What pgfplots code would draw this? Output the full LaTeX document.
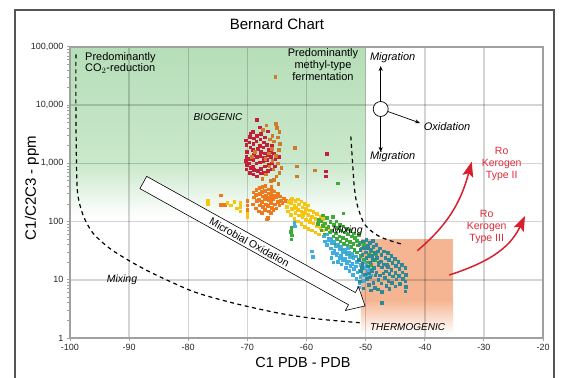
\documentclass[border=0pt]{standalone}
\usepackage{pgfplots}
\pgfplotsset{compat=1.18}
\usepackage{fontspec}
\setmainfont{Liberation Sans}
\usetikzlibrary{calc,arrows.meta}
\definecolor{cred}{HTML}{C41E3A}
\definecolor{cochre}{HTML}{D07A2C}
\definecolor{corange}{HTML}{EE7A1E}
\definecolor{cyellow}{HTML}{F5C510}
\definecolor{cgreen}{HTML}{3DAA3A}
\definecolor{cblue}{HTML}{3EAEE2}
\definecolor{cteal}{HTML}{2A8A98}
\definecolor{axgray}{HTML}{A0A0A0}
\definecolor{arrred}{HTML}{D71F2E}
\definecolor{txtred}{HTML}{DD2A3A}
\definecolor{greenTop}{HTML}{B6DEB8}
\definecolor{greenMid}{HTML}{CAE8CB}
\definecolor{orTop}{HTML}{F5B592}
\definecolor{framegray}{HTML}{555555}
\begin{document}
\begin{tikzpicture}
\begin{axis}[
  set layers,
  scale only axis, width=473pt, height=291pt,
  at={(0pt,0pt)}, anchor=south west,
  ymode=log, xmin=-100, xmax=-20, ymin=1, ymax=100000,
  xtick={-100,-90,-80,-70,-60,-50,-40,-30,-20},
  xticklabels={-100,-90,-80,-70,-60,-50,-40,-30,-20},
  ytick={1,10,100,1000,10000,100000},
  yticklabels={1,10,100,{1,000},{10,000},{100,000}},
  minor tick num=0,
  grid=major, major grid style={black, opacity=0.17, line width=1.5pt},
  axis line style={axgray, line width=1.3pt},
  tick style={axgray, line width=1pt}, tick align=outside, major tick length=3pt,
  xtick pos=left, ytick pos=left,
  ticklabel style={font=\fontsize{9}{10}\selectfont, text=black!85},
]
\begin{pgfonlayer}{axis background}
\shade[top color=greenTop, bottom color=greenMid] (axis cs:-100,100000) rectangle (axis cs:-50,1000);
\shade[top color=greenMid, bottom color=white] (axis cs:-100,1001) rectangle (axis cs:-50,120);
\fill[orTop] (axis cs:-50.8,49.6) rectangle (axis cs:-35.2,4.5);
\shade[top color=orTop, bottom color=white] (axis cs:-50.8,4.52) rectangle (axis cs:-35.2,1.2);
\end{pgfonlayer}

% dashed boundary curves
\addplot[black, line width=1.2pt, dash pattern=on 4pt off 3.5pt, smooth, tension=0.5] coordinates {
(-99.0,75000)(-99.0,8000)(-98.9,1000)(-98.7,300)(-97.8,130)(-96.2,65)(-93.5,36)(-90.4,22.5)(-87,14.5)(-83.6,9.9)(-78.6,6.0)(-72,3.9)(-64.5,2.65)(-58,2.12)(-51.0,1.83)};
\addplot[black, line width=1.2pt, dash pattern=on 4pt off 3.5pt, smooth, tension=0.5] coordinates {
(-52.5,2900)(-52.2,1000)(-51.9,380)(-51.4,190)(-50.1,88)(-47.6,55)(-43.9,41)};

% red
\addplot[only marks, mark=square*, mark size=1.3pt, cred, mark options={draw=none, fill=cred}] coordinates {
(-70.2,800)(-70.1,950)(-70.3,1100)(-70.2,1300)(-70.1,1600)(-70.2,2100)(-70.3,2500)
(-69.6,700)(-69.5,850)(-69.7,1000)(-69.6,1200)(-69.5,1900)(-69.7,2300)(-69.6,2900)(-69.5,3300)
(-69.0,650)(-68.9,780)(-69.1,900)(-69.0,1150)(-68.9,1400)(-69.1,1700)(-69.0,2200)(-68.9,2700)(-69.1,3500)
(-68.4,5700)(-68.4,600)(-68.3,750)(-68.5,1000)(-68.4,1300)(-68.3,1800)(-68.5,2400)(-68.4,3000)
(-67.8,680)(-67.7,820)(-67.9,1050)(-67.8,1350)(-67.7,1600)(-67.9,2000)(-67.8,2600)(-67.7,3200)(-67.9,4200)
(-67.2,700)(-67.1,900)(-67.3,1100)(-67.2,1250)(-67.1,1500)(-67.3,1900)(-67.2,2300)(-67.1,2800)
(-66.6,750)(-66.5,950)(-66.7,1150)(-66.6,1400)(-66.5,1700)(-66.7,2100)(-66.6,3600)
(-66.0,800)(-65.9,1000)(-66.1,1300)(-66.0,1600)(-65.9,2000)
(-65.4,900)(-65.3,1200)(-65.5,1500)
(-64.8,1000)(-64.7,1300)
(-56.6,1480)(-56.8,740)(-56.8,600)};
% ochre
\addplot[only marks, mark=square*, mark size=1.3pt, cochre, mark options={draw=none, fill=cochre}] coordinates {
(-65.3,31000)(-65.2,4800)(-65.0,4100)(-64.6,3500)(-65.8,3000)(-66.2,2600)(-64.9,2800)(-65.5,2400)(-66.8,4500)(-67.4,3800)
(-64.5,2200)(-65.9,1800)(-66.4,1500)(-64.7,1700)(-65.2,1350)(-67.0,1200)(-65.8,1100)(-64.9,1000)(-66.3,900)(-65.6,800)
(-64.6,700)(-66.9,650)(-65.1,600)(-67.5,550)(-66.1,500)(-64.8,450)(-68.8,1600)(-69.3,1300)(-65.5,520)(-64.3,850)
(-62.0,1870)(-61.7,900)(-61.7,600)(-58.6,760)};
% orange
\addplot[only marks, mark=square*, mark size=1.3pt, corange, mark options={draw=none, fill=corange}] coordinates {
(-69.1,200)(-68.9,262)(-69.0,318)
(-68.6,171)(-68.4,228)(-68.6,292)(-68.5,352)
(-68.1,151)(-67.9,192)(-68.1,238)(-67.9,303)(-68.0,378)
(-67.6,141)(-67.4,181)(-67.6,219)(-67.4,272)(-67.6,328)(-67.5,402)
(-67.1,161)(-66.9,198)(-67.1,243)(-66.9,279)(-67.1,342)(-67.0,418)
(-66.6,116)(-66.4,151)(-66.6,188)(-66.4,232)(-66.6,262)(-66.4,308)(-66.5,362)
(-66.1,141)(-65.9,174)(-66.1,212)(-65.9,248)(-66.1,292)(-65.9,338)(-66.0,398)
(-65.6,161)(-65.4,198)(-65.6,242)(-65.4,278)(-65.5,332)
(-65.1,171)(-64.9,218)(-65.1,262)(-64.9,298)
(-64.6,191)(-64.4,228)(-64.5,272)
(-64.1,209)(-63.9,252)(-63.5,230)
(-70.0,160)(-70.0,190)(-70.0,230)(-74.5,285)(-74.5,195)(-73.8,195)(-62.7,230)(-66.7,110)};
% yellow
\addplot[only marks, mark=square*, mark size=1.3pt, cyellow, mark options={draw=none, fill=cyellow}] coordinates {
(-76.7,200)(-76.7,230)(-73.4,210)(-72.8,190)(-72.2,222)(-71.8,170)(-71.2,150)(-71.2,180)(-71.2,210)(-70.0,120)(-70.0,140)
(-63.3,182)(-63.1,221)(-63.2,152)(-62.7,131)(-62.5,168)(-62.7,212)(-62.5,248)(-62.1,112)(-61.9,141)(-62.1,188)(-61.9,231)
(-61.5,101)(-61.3,129)(-61.5,162)(-61.3,198)(-61.5,242)(-60.9,91)(-60.7,119)(-60.9,152)(-60.7,178)(-60.9,223)
(-60.3,81)(-60.1,109)(-60.3,142)(-60.1,168)(-60.3,203)(-59.7,76)(-59.5,99)(-59.7,132)(-59.5,158)(-59.7,192)
(-59.1,71)(-58.9,94)(-59.1,122)(-58.9,148)(-58.5,66)(-58.3,84)(-58.5,112)(-58.3,138)(-57.9,61)(-57.7,79)(-57.9,101)(-57.7,124)
(-57.3,71)(-57.1,89)(-57.3,111)(-56.7,61)(-56.5,79)(-56.0,70)(-60.6,130)(-61.8,175)(-59.4,110)};
% green
\addplot[only marks, mark=square*, mark size=1.3pt, cgreen, mark options={draw=none, fill=cgreen}] coordinates {
(-62.6,50)(-62.5,58)(-62.7,67)(-62.6,78)(-54.7,460)(-58.1,91)(-57.9,108)(-57.5,71)(-57.3,86)(-57.5,101)(-57.3,128)
(-56.9,61)(-56.7,76)(-56.9,94)(-56.6,116)(-56.3,51)(-56.1,66)(-56.3,81)(-56.0,99)(-55.7,46)(-55.5,56)(-55.7,71)(-55.4,89)(-55.6,121)
(-55.1,41)(-54.9,51)(-55.1,63)(-54.8,79)(-55.0,101)(-54.5,36)(-54.3,46)(-54.5,56)(-54.2,71)(-54.4,88)
(-53.9,33)(-53.7,42)(-53.9,53)(-53.6,66)(-53.8,84)(-53.8,140)(-53.3,30)(-53.1,39)(-53.3,49)(-53.0,61)(-53.2,76)
(-52.7,28)(-52.5,37)(-52.7,45)(-52.4,56)(-52.6,69)(-52.1,25)(-51.9,33)(-52.1,42)(-51.8,53)(-52.0,63)
(-51.5,30)(-51.3,39)(-51.5,47)(-51.2,59)(-50.9,26)(-50.7,35)(-50.9,44)(-50.3,22)(-50.1,30)(-50.3,40)
(-49.7,20)(-49.5,27)(-49.7,36)(-49.1,18)(-48.9,24)(-49.1,32)(-48.5,22)(-48.3,28)};
% blue
\addplot[only marks, mark=square*, mark size=1.3pt, cblue, mark options={draw=none, fill=cblue}] coordinates {
(-62.1,95)(-62.0,84)(-59.1,31)(-59.0,25)(-55.5,20)(-57.1,56)(-56.9,46)(-56.5,61)(-56.3,49)(-56.6,40)
(-55.9,51)(-55.7,43)(-55.9,35)(-55.6,29.5)(-55.3,46)(-55.1,38)(-55.3,32)(-55.0,27)
(-54.7,41)(-54.5,34)(-54.8,28.5)(-54.5,24)(-54.7,20.5)(-54.1,37)(-53.9,30.5)(-54.2,26)(-53.9,22)(-54.1,18.5)
(-53.5,33)(-53.3,27.5)(-53.5,23)(-53.2,19.5)(-53.4,16)(-52.9,30)(-52.7,25)(-52.9,21)(-52.6,17.5)(-52.8,14.2)
(-52.3,28)(-52.1,23.5)(-52.3,19)(-52.0,15.5)(-52.2,12.2)(-51.7,25.5)(-51.5,20.5)(-51.7,17)(-51.4,13.5)(-51.6,10.5)
(-51.1,22.5)(-50.9,18)(-51.1,14.5)(-50.9,11.2)(-51.1,9)(-51.2,7.5)(-50.5,20)(-50.3,16)(-50.5,12.3)(-50.3,9.7)
(-49.9,18.5)(-49.7,14.2)(-49.9,11.2)(-49.3,15)(-49.1,12)(-53.0,36)(-55.8,24)};
% teal
\addplot[only marks, mark=square*, mark size=1.3pt, cteal, mark options={draw=none, fill=cteal}] coordinates {
(-51.1,41)(-50.9,33)(-51.2,22)(-50.8,14)(-51.0,9.5)(-50.6,27)(-50.5,46)(-50.3,36)(-50.6,19)(-50.2,12.5)(-50.4,7.2)
(-50.0,30)(-49.9,49)(-49.7,39)(-49.9,24)(-49.6,17)(-49.8,10.5)(-49.5,8.2)(-49.3,43)(-49.1,33)(-49.4,26)(-49.2,20)
(-49.0,14.5)(-49.3,11)(-49.1,6.6)(-48.8,47)(-48.7,37)(-48.5,29)(-48.8,22)(-48.6,16)(-48.4,12)(-48.7,9)(-48.5,7.4)
(-48.2,40)(-48.0,31)(-48.1,24)(-47.9,18)(-48.2,13.5)(-47.9,10)(-48.0,6.9)(-47.6,35)(-47.4,27)(-47.5,21)(-47.3,16.5)
(-47.6,12)(-47.4,8.8)(-47.3,6.2)(-47.3,4.0)(-46.9,31)(-46.7,24)(-46.9,18.5)(-46.6,14)(-46.8,10.8)(-46.5,8)
(-46.3,29)(-46.1,22)(-46.3,16.8)(-46.0,12.6)(-46.2,9.6)(-46.0,7.1)(-45.7,26)(-45.5,19.5)(-45.7,15)(-45.4,11.6)(-45.6,8.9)
(-45.1,23)(-44.9,17.5)(-45.0,13.2)(-44.8,10.2)(-45.0,7.8)(-44.5,20.5)(-44.3,15.5)(-44.4,11.8)(-44.2,8.6)
(-43.9,18)(-43.8,13.5)(-43.7,10.4)(-43.3,16)(-43.2,12.3)(-43.3,9.4)(-43.2,7.6)(-43.3,6.4)
(-49.6,35)(-48.9,26)(-47.8,20)(-46.4,18)(-47.0,13)(-49.5,13)(-50.7,16)};

\coordinate (S) at (axis cs:-87.6,470);
\coordinate (T) at (axis cs:-50.1,3.55);
\end{axis}

% Microbial oxidation hollow arrow
\coordinate (H) at ($(T)!15pt!(S)$);
\draw[black, line width=0.6pt, fill=white, line join=miter]
  ($(S)!7pt!90:(T)$) -- ($(H)!7pt!90:(T)$) -- ($(H)!13.5pt!90:(T)$) -- (T)
  -- ($(H)!13.5pt!-90:(T)$) -- ($(H)!7pt!-90:(T)$) -- ($(S)!7pt!-90:(T)$) -- cycle;
\coordinate (S2) at ($(S)!4.3pt!-90:(T)$);
\coordinate (T2) at ($(T)!4.3pt!90:(S)$);
\path (S2) -- (T2) node[pos=0.48, sloped, anchor=base, inner sep=0pt, font=\fontsize{10.5}{12}\selectfont] {Microbial Oxidation};

% migration / oxidation symbol
\draw[black, line width=0.7pt, fill=white] (310.7pt,229pt) circle (7.5pt);
\draw[black, line width=0.7pt, -{Stealth[length=5pt,width=4pt]}] (310.7pt,236.5pt) -- (310.7pt,272pt);
\draw[black, line width=0.7pt, -{Stealth[length=5pt,width=4pt]}] (310.7pt,221.5pt) -- (310.7pt,186pt);
\draw[black, line width=0.7pt, -{Stealth[length=5pt,width=4pt]}] (317.8pt,226.5pt) -- (350pt,215pt);
\node[font=\fontsize{11}{12}\selectfont\itshape] at (322.7pt,280pt) {Migration};
\node[font=\fontsize{11}{12}\selectfont\itshape] at (322.7pt,181pt) {Migration};
\node[font=\fontsize{11}{12}\selectfont\itshape] at (377pt,211pt) {Oxidation};

% red kerogen arrows
\draw[arrred, line width=1.5pt, -{Stealth[length=15pt,width=11pt,inset=3pt]}] (347.3pt,87.3pt) to[out=40,in=255] (401.7pt,176.3pt);
\draw[arrred, line width=1.5pt, -{Stealth[length=15pt,width=11pt,inset=3pt]}] (379.3pt,63pt) to[out=18,in=245] (455pt,122pt);
\node[txtred, align=center, font=\fontsize{10.5}{12}\selectfont] at (431.7pt,174pt) {Ro\\Kerogen\\Type II};
\node[txtred, align=center, font=\fontsize{10.5}{12}\selectfont] at (416.7pt,111pt) {Ro\\Kerogen\\Type III};

% annotations
\node[anchor=north west, align=left, inner sep=0pt, font=\fontsize{11}{11.7}\selectfont] at (15pt,286pt) {Predominantly\\CO$_2$-reduction};
\node[anchor=north, align=center, inner sep=0pt, font=\fontsize{11}{12.2}\selectfont] at (253pt,290pt) {Predominantly\\methyl-type\\fermentation};
\node[font=\fontsize{10}{12}\selectfont\itshape] at (148pt,221pt) {BIOGENIC};
\node[font=\fontsize{10.5}{12}\selectfont\itshape] at (52pt,58pt) {Mixing};
\node[font=\fontsize{10.5}{12}\selectfont\itshape] at (277.5pt,107pt) {Mixing};
\node[font=\fontsize{10}{12}\selectfont\itshape] at (337.5pt,11pt) {THERMOGENIC};

% title and labels
\node[font=\fontsize{15}{17}\selectfont] at (207pt,314pt) {Bernard Chart};
\node[font=\fontsize{14.5}{16}\selectfont] at (233pt,-25pt) {C1 PDB - PDB};
\node[rotate=90, font=\fontsize{15}{17}\selectfont] at (-38pt,150pt) {C1/C2C3 - ppm};

% outer frame
\draw[framegray, line width=1.8pt] (-55pt,-45pt) -- (-55pt,328pt) -- (484pt,328pt) -- (484pt,-45pt);
\pgfresetboundingbox
\useasboundingbox (-70pt,-39pt) rectangle (491pt,338pt);
\end{tikzpicture}
\end{document}
